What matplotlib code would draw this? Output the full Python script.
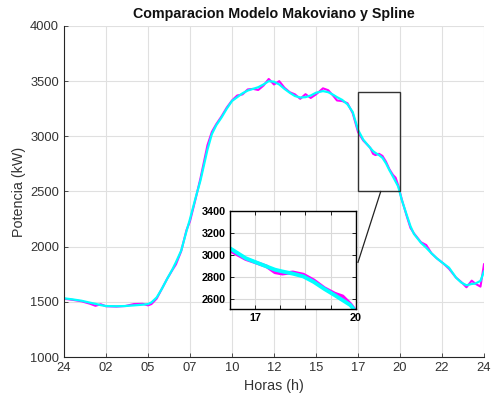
import numpy as np
import matplotlib.pyplot as plt
from matplotlib.patches import Rectangle

plt.rcParams['font.family'] = ['Liberation Sans', 'DejaVu Sans']

# horas del dia y potencia (kW) de cada modelo
horas = [0.0, 0.5, 1.0, 1.5, 1.8, 2.1, 2.4, 3.0, 3.5, 4.0, 4.5, 4.8, 5.0, 5.3,
         5.6, 5.9, 6.2, 6.4, 6.7, 7.0, 7.2, 7.5, 7.8, 8.0, 8.2, 8.45, 8.7, 9.0,
         9.3, 9.6, 9.9, 10.2, 10.5, 10.8, 11.1, 11.4, 11.7, 12.0, 12.3, 12.6,
         12.9, 13.2, 13.5, 13.8, 14.1, 14.4, 14.8, 15.1, 15.4, 15.6, 15.9, 16.2,
         16.5, 16.8, 17.1, 17.3, 17.5, 17.66, 17.8, 18.0, 18.2, 18.4, 18.6, 18.8,
         18.95, 19.1, 19.3, 19.6, 19.8, 20.0, 20.4, 20.7, 21.0, 21.3, 21.7, 22.0,
         22.4, 22.7, 23.0, 23.3, 23.5, 23.8, 24.0]
markov = [1528, 1518, 1505, 1482, 1464, 1478, 1460, 1457, 1462, 1480, 1482, 1468,
          1480, 1530, 1620, 1710, 1790, 1840, 1960, 2150, 2230, 2420, 2620, 2770,
          2920, 3040, 3110, 3180, 3260, 3325, 3370, 3380, 3425, 3430, 3420, 3460,
          3520, 3470, 3500, 3440, 3400, 3380, 3340, 3382, 3348, 3380, 3435, 3418,
          3365, 3325, 3320, 3300, 3210, 3040, 2962, 2930, 2896, 2842, 2830, 2842,
          2822, 2770, 2700, 2650, 2625, 2555, 2430, 2270, 2170, 2120, 2040, 2015,
          1940, 1895, 1845, 1800, 1720, 1680, 1632, 1692, 1665, 1638, 1840]
spline = [1532, 1522, 1510, 1492, 1482, 1470, 1462, 1460, 1462, 1468, 1474, 1480,
          1495, 1540, 1620, 1710, 1795, 1860, 1965, 2140, 2250, 2430, 2600, 2740,
          2880, 3020, 3100, 3170, 3250, 3320, 3355, 3390, 3415, 3430, 3445, 3470,
          3500, 3495, 3470, 3430, 3395, 3365, 3352, 3355, 3370, 3395, 3410, 3400,
          3375, 3355, 3330, 3290, 3220, 3060, 2970, 2932, 2895, 2866, 2850, 2830,
          2805, 2755, 2692, 2635, 2590, 2545, 2425, 2280, 2185, 2115, 2035, 1990,
          1940, 1895, 1845, 1810, 1720, 1675, 1650, 1662, 1665, 1690, 1775]

xticks = np.linspace(0, 24, 11)
xlabels = ['24', '02', '05', '07', '10', '12', '15', '17', '20', '22', '24']
yticks = [1000, 1500, 2000, 2500, 3000, 3500, 4000]

# zona del zoom
zx0, zx1 = 16.8, 19.2
zy0, zy1 = 2500, 3400

gris = '#333333'
fig = plt.figure(figsize=(4.91, 3.98), dpi=100)
ax = fig.add_axes([0.1303, 0.1030, 0.8554, 0.8317])
ax.plot(horas, markov, color='magenta', lw=1.5)
ax.plot(horas, spline, color='cyan', lw=1.6)
ax.set_xlim(0, 24)
ax.set_ylim(1000, 4000)
ax.set_xticks(xticks)
ax.set_xticklabels(xlabels)
ax.set_yticks(yticks)
ax.grid(True, color='#e0e0e0', lw=0.8)
ax.set_axisbelow(True)
for s in ['top', 'right']:
    ax.spines[s].set_visible(False)
for s in ['left', 'bottom']:
    ax.spines[s].set_color('#262626')
    ax.spines[s].set_linewidth(0.8)
ax.tick_params(direction='in', length=3, colors=gris, labelsize=9.3, width=0.6)
ax.set_xlabel('Horas (h)', fontsize=10.3, color=gris, labelpad=4)
ax.set_ylabel('Potencia (kW)', fontsize=10.3, color=gris, labelpad=3)
ax.set_title('Comparacion Modelo Makoviano y Spline', fontsize=10.3,
             fontweight='bold', color='#111111', pad=6)

ax.add_patch(Rectangle((zx0, zy0), zx1 - zx0, zy1 - zy0, fill=False,
                       edgecolor='#333333', lw=1.0, zorder=5))
ax.plot([18.1, 16.8], [zy0, 1858], color='#222222', lw=0.9, zorder=5)

# recuadro con el detalle
ins = fig.add_axes([0.4684, 0.2236, 0.2560, 0.2470])
ins.plot(horas, markov, color='magenta', lw=2.6)
ins.plot(horas, spline, color='cyan', lw=2.8)
ins.set_xlim(zx0, zx1)
ins.set_ylim(2510, zy1)
ins_xt = np.linspace(zx0, zx1, 6)[1:]
ins.set_xticks(ins_xt)
ins.set_xticklabels(['17', '', '', '', '20'])
ins.set_yticks([2600, 2800, 3000, 3200, 3400])
ins.grid(True, color='#d9d9d9', lw=0.8)
ins.set_axisbelow(True)
for s in ins.spines.values():
    s.set_color('black')
    s.set_linewidth(1.0)
ins.tick_params(direction='in', length=3, top=True, right=True, labelsize=7.8,
                width=0.6, pad=3)
for lbl in ins.get_xticklabels() + ins.get_yticklabels():
    lbl.set_fontweight('bold')

fig.savefig('out.png', dpi=100)
